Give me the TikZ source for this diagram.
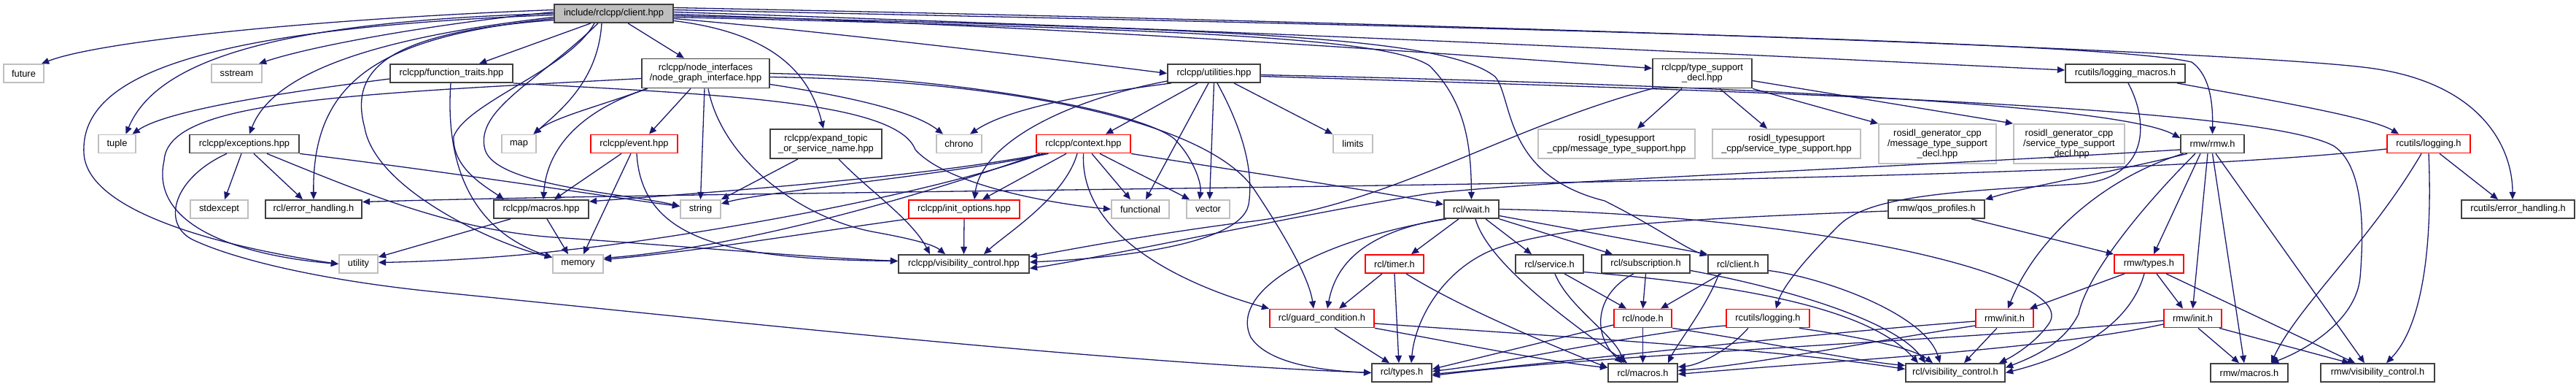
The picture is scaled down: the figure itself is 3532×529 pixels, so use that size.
\documentclass[tikz,border=0pt]{standalone}
\usepackage{fontspec}
\usetikzlibrary{arrows.meta}
\newfontfamily\graphfont{Liberation Sans}
\definecolor{edgeblue}{HTML}{191970}
\definecolor{lightgrey}{HTML}{BFBFBF}

\tikzset{
  hdrbox/.style={draw=black!75, line width=.5pt, fill=white, inner sep=0pt,
    minimum height=.25cm, align=center, font={\graphfont\fontsize{3.65}{4.0}\selectfont}},
  sysbox/.style={hdrbox, draw=lightgrey},
  cutbox/.style={hdrbox, draw=red},
  rootbox/.style={hdrbox, fill=lightgrey},
  incl/.style={draw=edgeblue, line width=.37pt, -{Triangle[length=2.9pt,width=2.5pt]}},
}

\begin{document}
\begin{tikzpicture}[x=0.01cm, y=-0.01cm]
\useasboundingbox (0,0) rectangle (3532,529);

% Include-Graph von client.hpp
\node[rootbox, minimum width=1.63cm] (client) at (841.5,18.5) {include/rclcpp/client.hpp};

% Ebene 1
\node[sysbox, minimum width=.55cm] (future) at (32.5,100.5) {future};
\node[sysbox, minimum width=.69cm] (sstream) at (324.5,100.5) {sstream};
\node[hdrbox, minimum width=1.68cm] (ftraits) at (619,100.5) {rclcpp/function\_traits.hpp};
\node[hdrbox, minimum width=1.75cm, minimum height=.4cm] (nodegraph) at (967.5,100.5) {rclcpp/node\_interfaces\\/node\_graph\_interface.hpp};
\node[hdrbox, minimum width=1.27cm] (utilities) at (1664.5,100.5) {rclcpp/utilities.hpp};
\node[hdrbox, minimum width=1.36cm, minimum height=.4cm] (tsdecl) at (2334,100.5) {rclcpp/type\_support\\\_decl.hpp};
\node[hdrbox, minimum width=1.64cm] (logmacros) at (2914,100.5) {rcutils/logging\_macros.h};

% Ebene 2
\node[sysbox, minimum width=.51cm] (tuple) at (160.5,197) {tuple};
\node[hdrbox, minimum width=1.5cm] (exceptions) at (335,197) {rclcpp/exceptions.hpp};
\node[sysbox, minimum width=.47cm] (map) at (711.5,197) {map};
\node[cutbox, minimum width=1.19cm] (event) at (869.5,197) {rclcpp/event.hpp};
\node[hdrbox, minimum width=1.53cm, minimum height=.4cm] (expand) at (1132.5,197) {rclcpp/expand\_topic\\\_or\_service\_name.hpp};
\node[sysbox, minimum width=.62cm] (chrono) at (1315,197) {chrono};
\node[cutbox, minimum width=1.29cm] (context) at (1485.5,197) {rclcpp/context.hpp};
\node[sysbox, minimum width=.54cm] (limits) at (1855,197) {limits};
\node[sysbox, minimum width=2.15cm, minimum height=.4cm] (msgts) at (2216.5,197) {rosidl\_typesupport\\\_cpp/message\_type\_support.hpp};
\node[sysbox, minimum width=2.03cm, minimum height=.4cm] (srvts) at (2449.5,197) {rosidl\_typesupport\\\_cpp/service\_type\_support.hpp};
\node[sysbox, minimum width=1.61cm, minimum height=.54cm] (genmsg) at (2656.5,197) {rosidl\_generator\_cpp\\/message\_type\_support\\\_decl.hpp};
\node[sysbox, minimum width=1.52cm, minimum height=.54cm] (gensrv) at (2837,197) {rosidl\_generator\_cpp\\/service\_type\_support\\\_decl.hpp};
\node[hdrbox, minimum width=.87cm] (rmw) at (3033.5,197) {rmw/rmw.h};
\node[cutbox, minimum width=1.14cm] (ulogA) at (3330,197) {rcutils/logging.h};

% Ebene 3
\node[sysbox, minimum width=.79cm] (stdexcept) at (300.5,286.5) {stdexcept};
\node[hdrbox, minimum width=1.32cm] (rclerr) at (430,286.5) {rcl/error\_handling.h};
\node[hdrbox, minimum width=1.3cm] (macros) at (742,286.5) {rclcpp/macros.hpp};
\node[sysbox, minimum width=.55cm] (string) at (960.5,286.5) {string};
\node[cutbox, minimum width=1.52cm] (initopts) at (1322,286.5) {rclcpp/init\_options.hpp};
\node[sysbox, minimum width=.79cm] (functional) at (1563.5,286.5) {functional};
\node[sysbox, minimum width=.59cm] (vector) at (1656.5,286.5) {vector};
\node[hdrbox, minimum width=.75cm] (wait) at (2017.5,286.5) {rcl/wait.h};
\node[hdrbox, minimum width=1.32cm] (qos) at (2655,286.5) {rmw/qos\_profiles.h};
\node[hdrbox, minimum width=1.55cm] (uerr) at (3452.5,286.5) {rcutils/error\_handling.h};

% Ebene 4
\node[sysbox, minimum width=.53cm] (utility) at (491.5,361.5) {utility};
\node[sysbox, minimum width=.69cm] (memory) at (792.5,361.5) {memory};
\node[hdrbox, minimum width=1.79cm] (visctl) at (1321.5,361.5) {rclcpp/visibility\_control.hpp};
\node[cutbox, minimum width=.8cm] (timer) at (1912,361.5) {rcl/timer.h};
\node[hdrbox, minimum width=.93cm] (service) at (2124.5,361.5) {rcl/service.h};
\node[hdrbox, minimum width=1.21cm] (subscr) at (2256.5,361.5) {rcl/subscription.h};
\node[hdrbox, minimum width=.82cm] (rclclient) at (2383,361.5) {rcl/client.h};
\node[cutbox, minimum width=.95cm] (rmwtypes) at (2946.5,361.5) {rmw/types.h};

% Ebene 5
\node[cutbox, minimum width=1.43cm] (guard) at (1812.5,436) {rcl/guard\_condition.h};
\node[cutbox, minimum width=.79cm] (rclnode) at (2252.5,436) {rcl/node.h};
\node[cutbox, minimum width=1.14cm] (ulogB) at (2424,436) {rcutils/logging.h};
\node[cutbox, minimum width=.79cm] (rmwinitA) at (2748.5,436) {rmw/init.h};
\node[cutbox, minimum width=.79cm] (rmwinitB) at (3006.5,436) {rmw/init.h};

% Ebene 6
\node[hdrbox, minimum width=.82cm] (rcltypes) at (1922,510.5) {rcl/types.h};
\node[hdrbox, minimum width=.95cm] (rclmacros) at (2252.5,510.5) {rcl/macros.h};
\node[hdrbox, minimum width=1.36cm] (rclvis) at (2681,510.5) {rcl/visibility\_control.h};
\node[hdrbox, minimum width=1.06cm] (rmwmacros) at (3084,510.5) {rmw/macros.h};
\node[hdrbox, minimum width=1.56cm] (rmwvis) at (3260,510.5) {rmw/visibility\_control.h};

% client.hpp
\draw[incl] ([yshift=.05cm]client.west) .. controls (450,25) and (140,55) .. ([xshift=.245cm]future.north);
\draw[incl] ([yshift=.02cm]client.west) .. controls (600,32) and (430,62) .. ([xshift=.305cm]sstream.north);
\draw[incl] (client.west) .. controls (340,30) and (210,95) .. ([xshift=.12cm]tuple.north);
\draw[incl] ([yshift=-.02cm]client.west) .. controls (250,40) and (110,110) .. (115,210) .. controls (120,300) and (350,345) .. (utility.west);
\draw[incl] ([yshift=-.05cm]client.west) .. controls (480,55) and (370,110) .. ([xshift=.07cm]exceptions.north);
\draw[incl] ([yshift=-.07cm]client.west) .. controls (520,50) and (428,110) .. (rclerr.north);
\draw[incl] ([yshift=-.09cm]client.west) .. controls (520,45) and (480,100) .. (500,175) .. controls (515,260) and (680,335) .. ([yshift=.09cm]memory.west);
\draw[incl] ([xshift=-.315cm]client.south) -- ([xshift=.38cm]ftraits.north);
\draw[incl] ([xshift=-.265cm]client.south) .. controls (780,95) and (640,140) .. (622,187) .. controls (620,230) and (665,255) .. ([xshift=-.51cm]macros.north);
\draw[incl] ([xshift=-.215cm]client.south) .. controls (740,110) and (650,150) .. (665,205) .. controls (680,255) and (860,265) .. ([yshift=.04cm]string.west);
\draw[incl] ([xshift=-.165cm]client.south) .. controls (820,110) and (770,150) .. ([xshift=.2cm]map.north);
\draw[incl] ([xshift=.195cm]client.south) -- ([xshift=-.295cm]nodegraph.north);
\draw[incl] ([yshift=-.1cm]client.east) .. controls (1060,45) and (1110,100) .. ([xshift=-.035cm]expand.north);
\draw[incl] ([yshift=-.07cm]client.east) .. controls (1100,40) and (1400,75) .. (utilities.west);
\draw[incl] ([yshift=-.05cm]client.east) .. controls (1600,40) and (1900,50) .. (1960,90) .. controls (2010,140) and (2017,200) .. (wait.north);
\draw[incl] ([yshift=-.03cm]client.east) .. controls (1700,40) and (1980,50) .. (2050,105) .. controls (2075,135) and (2060,240) .. (2200,275) .. controls (2270,310) and (2310,340) .. ([yshift=.115cm]rclclient.west);
\draw[incl] ([yshift=-.01cm]client.east) .. controls (1500,38) and (2000,75) .. ([yshift=.07cm]tsdecl.west);
\draw[incl] ([yshift=.02cm]client.east) .. controls (1800,45) and (2500,80) .. ([yshift=.045cm]logmacros.west);
\draw[incl] ([yshift=.05cm]client.east) .. controls (2200,40) and (2900,60) .. (3005,85) .. controls (3033,105) and (3034,150) .. (rmw.north);
\draw[incl] ([yshift=.08cm]client.east) .. controls (2300,38) and (3100,75) .. (3240,92) .. controls (3400,110) and (3445,200) .. ([xshift=-.075cm]uerr.north);

% function_traits.hpp
\draw[incl] ([yshift=-.075cm]ftraits.west) .. controls (400,125) and (230,150) .. ([xshift=.21cm]tuple.north);
\draw[incl] ([xshift=-.01cm]ftraits.south) .. controls (612,200) and (630,310) .. ([yshift=.09cm]memory.west);
\draw[incl] (ftraits.south east) .. controls (1000,130) and (1230,140) .. (1255,205) .. controls (1300,255) and (1450,280) .. (functional.west);

% exceptions.hpp
\draw[incl] ([xshift=-.04cm]exceptions.south) -- ([xshift=.075cm]stdexcept.north);
\draw[incl] ([xshift=.13cm]exceptions.south) -- ([xshift=-.15cm]rclerr.north);
\draw[incl] ([xshift=-.24cm]exceptions.south) .. controls (235,245) and (220,310) .. (268,330) .. controls (330,358) and (450,385) .. (600,400) .. controls (1000,440) and (1500,495) .. (rcltypes.west);
\draw[incl] ([xshift=.31cm]exceptions.south) .. controls (500,265) and (620,315) .. (760,325) .. controls (950,338) and (1100,352) .. ([yshift=.04cm]visctl.west);
\draw[incl] (exceptions.south east) .. controls (650,240) and (850,272) .. ([yshift=.04cm]string.west);

% macros.hpp
\draw[incl] ([xshift=.08cm]macros.south) -- ([xshift=-.135cm]memory.north);
\draw[incl] ([xshift=-.42cm]macros.south) -- ([yshift=.095cm]utility.east);

% node_graph_interface.hpp
\draw[incl] ([xshift=-.815cm]nodegraph.south) .. controls (840,140) and (760,160) .. ([xshift=.2cm]map.north);
\draw[incl] ([xshift=-.795cm]nodegraph.south) .. controls (800,150) and (750,200) .. ([xshift=.03cm]macros.north);
\draw[incl] ([xshift=-.205cm]nodegraph.south) -- ([xshift=.205cm]event.north);
\draw[incl] ([xshift=-.015cm]nodegraph.south) -- (string.north);
\draw[incl] ([yshift=-.07cm]nodegraph.west) .. controls (450,130) and (230,140) .. (225,220) .. controls (205,310) and (330,350) .. (utility.west);
\draw[incl] (nodegraph.east) .. controls (1300,105) and (1560,150) .. (1610,190) .. controls (1635,215) and (1648,250) .. ([xshift=-.12cm]vector.north);
\draw[incl] ([yshift=-.05cm]nodegraph.east) .. controls (1400,110) and (1660,170) .. (1720,260) .. controls (1760,320) and (1795,380) .. ([xshift=-.115cm]guard.north);
\draw[incl] ([xshift=.035cm]nodegraph.south) .. controls (990,220) and (1100,300) .. (1200,318) .. controls (1250,327) and (1280,335) .. ([xshift=-.255cm]visctl.north);
\draw[incl] ([yshift=-.15cm]nodegraph.east) .. controls (1150,130) and (1250,150) .. ([xshift=-.22cm]chrono.north);

% event.hpp
\draw[incl] ([xshift=-.175cm]event.south) -- ([xshift=.18cm]macros.north);
\draw[incl] ([xshift=-.045cm]event.south) -- ([xshift=.075cm]memory.north);
\draw[incl] ([xshift=.035cm]event.south) .. controls (880,330) and (1000,355) .. ([yshift=.04cm]visctl.west);

% expand_topic_or_service_name.hpp
\draw[incl] ([xshift=-.385cm]expand.south) -- (string.north east);
\draw[incl] ([xshift=.175cm]expand.south) .. controls (1190,260) and (1250,300) .. ([xshift=-.465cm]visctl.north);

% utilities.hpp
\draw[incl] ([yshift=-.105cm]utilities.west) .. controls (1450,140) and (1345,200) .. ([xshift=.14cm]initopts.north);
\draw[incl] ([xshift=-.585cm]utilities.south) .. controls (1480,130) and (1380,150) .. ([xshift=.15cm]chrono.north);
\draw[incl] ([xshift=-.225cm]utilities.south) -- ([xshift=.305cm]context.north);
\draw[incl] ([xshift=-.075cm]utilities.south) -- ([xshift=.075cm]functional.north);
\draw[incl] (utilities.south) -- ([xshift=.02cm]vector.north);
\draw[incl] ([xshift=.045cm]utilities.south) .. controls (1700,170) and (1720,230) .. (1712,280) .. controls (1700,340) and (1500,355) .. ([yshift=.025cm]visctl.east);
\draw[incl] ([xshift=.275cm]utilities.south) -- (limits.north west);
\draw[incl] ([yshift=-.02cm]utilities.east) .. controls (2300,115) and (2900,140) .. ([yshift=.08cm]rmw.west);
\draw[incl] ([yshift=-.04cm]utilities.east) .. controls (2400,125) and (3100,145) .. (3200,200) .. controls (3245,230) and (3240,330) .. (3236,380) .. controls (3230,440) and (3160,480) .. ([xshift=.3cm]rmwmacros.north);

% context.hpp
\draw[incl] ([xshift=-.48cm]context.south) .. controls (1300,240) and (1050,262) .. ([yshift=.075cm]string.east);
\draw[incl] ([xshift=-.52cm]context.south) .. controls (1250,245) and (950,265) .. ([yshift=.105cm]macros.east);
\draw[incl] ([xshift=-.56cm]context.south) .. controls (1250,275) and (900,330) .. (780,342) .. controls (700,352) and (600,358) .. ([yshift=.02cm]utility.east);
\draw[incl] ([xshift=-.6cm]context.south) .. controls (1230,280) and (1000,340) .. ([yshift=.08cm]memory.east);
\draw[incl] ([xshift=-.235cm]context.south) -- ([xshift=.25cm]initopts.north);
\draw[incl] ([xshift=-.085cm]context.south) .. controls (1460,270) and (1380,320) .. ([xshift=.275cm]visctl.north);
\draw[incl] (context.south) .. controls (1480,330) and (1640,395) .. (guard.north west);
\draw[incl] ([xshift=.115cm]context.south) -- ([xshift=-.135cm]functional.north);
\draw[incl] ([xshift=.225cm]context.south) -- ([xshift=-.255cm]vector.north);
\draw[incl] (context.south east) .. controls (1700,235) and (1850,255) .. ([yshift=.065cm]wait.west);

% init_options.hpp
\draw[incl] (initopts.south west) .. controls (1100,320) and (950,345) .. ([yshift=.06cm]memory.east);
\draw[incl] (initopts.south) -- (visctl.north);

% type_support_decl.hpp
\draw[incl] ([xshift=-.28cm]tsdecl.south) -- ([xshift=.285cm]msgts.north);
\draw[incl] ([xshift=.24cm]tsdecl.south) -- ([xshift=-.265cm]srvts.north);
\draw[incl] (tsdecl.south east) -- (genmsg.north west);
\draw[incl] ([yshift=-.1cm]tsdecl.east) -- (gensrv.north west);
\draw[incl] (tsdecl.south west) .. controls (2050,180) and (1900,285) .. (1700,305) .. controls (1550,325) and (1450,345) .. ([yshift=.1cm]visctl.east);

% logging_macros.h
\draw[incl] ([xshift=.04cm]logmacros.south) .. controls (2948,170) and (2945,245) .. (2850,252) .. controls (2680,262) and (2560,268) .. (2520,310) .. controls (2480,350) and (2445,390) .. ([xshift=.11cm]ulogB.north);
\draw[incl] ([xshift=.71cm]logmacros.south) .. controls (3100,135) and (3250,160) .. ([xshift=-.41cm]ulogA.north);

% rmw.h
\draw[incl] ([xshift=-.345cm]rmw.south) .. controls (2900,235) and (2780,255) .. (qos.north east);
\draw[incl] ([xshift=-.4cm]rmw.south) .. controls (2880,245) and (2790,330) .. ([xshift=.045cm]rmwinitA.north);
\draw[incl] ([xshift=-.165cm]rmw.south) -- ([xshift=.065cm]rmwtypes.north);
\draw[incl] ([xshift=-.065cm]rmw.south) -- (rmwinitB.north);
\draw[incl] (rmw.south) -- ([xshift=-.07cm]rmwmacros.north);
\draw[incl] ([xshift=.045cm]rmw.south) -- ([xshift=-.18cm]rmwvis.north);
\draw[incl] ([xshift=-.235cm]rmw.south) .. controls (2930,290) and (2860,380) .. (2850,430) .. controls (2830,470) and (2790,488) .. ([yshift=.07cm]rclvis.east);
\draw[incl] ([yshift=-.08cm]rmw.west) .. controls (2500,235) and (2150,245) .. (1960,265) .. controls (1800,290) and (1500,355) .. ([yshift=-.06cm]visctl.east);

% rcutils/logging.h (oben)
\draw[incl] ([yshift=-.07cm]ulogA.west) .. controls (2800,258) and (1200,256) .. ([yshift=.1cm]rclerr.east);
\draw[incl] ([xshift=-.1cm]ulogA.south) .. controls (3250,330) and (3150,420) .. ([xshift=.3cm]rmwmacros.north);
\draw[incl] (ulogA.south) .. controls (3336,350) and (3318,450) .. ([xshift=.12cm]rmwvis.north);
\draw[incl] ([xshift=.15cm]ulogA.south) -- ([xshift=-.275cm]uerr.north);

% qos_profiles.h
\draw[incl] ([xshift=.48cm]qos.south) -- (rmwtypes.north west);
\draw[incl] ([yshift=-.025cm]qos.west) .. controls (2300,300) and (2120,310) .. (2040,345) .. controls (1975,375) and (1940,440) .. ([xshift=.13cm]rcltypes.north);

% wait.h
\draw[incl] ([xshift=-.175cm]wait.south) -- ([xshift=.23cm]timer.north);
\draw[incl] ([xshift=.195cm]wait.south) -- ([xshift=-.245cm]service.north);
\draw[incl] (wait.south east) -- ([xshift=-.455cm]subscr.north);
\draw[incl] ([yshift=-.09cm]wait.east) -- (rclclient.north west);
\draw[incl] (wait.south west) .. controls (1860,320) and (1830,370) .. ([xshift=.075cm]guard.north);
\draw[incl] ([xshift=-.345cm]wait.south) .. controls (1800,330) and (1685,400) .. (1715,462) .. controls (1740,500) and (1820,508) .. (rcltypes.west);
\draw[incl] ([xshift=.055cm]wait.south) .. controls (2040,360) and (2150,440) .. ([xshift=-.215cm]rclmacros.north);
\draw[incl] (wait.east) .. controls (2500,295) and (2860,380) .. (2808,445) .. controls (2790,470) and (2760,488) .. ([xshift=.6cm]rclvis.north);

% timer.h
\draw[incl] ([xshift=-.17cm]timer.south) -- ([xshift=.235cm]guard.north);
\draw[incl] (timer.south) -- ([xshift=-.04cm]rcltypes.north);
\draw[incl] ([xshift=.16cm]timer.south) .. controls (2000,420) and (2120,470) .. ([yshift=.07cm]rclmacros.west);

% guard_condition.h
\draw[incl] ([xshift=.175cm]guard.south) -- ([xshift=-.17cm]rcltypes.north);
\draw[incl] (guard.south east) .. controls (2000,470) and (2120,495) .. ([yshift=.07cm]rclmacros.west);
\draw[incl] ([yshift=-.07cm]guard.east) .. controls (2200,465) and (2450,480) .. ([yshift=.05cm]rclvis.west);

% service.h
\draw[incl] ([xshift=.205cm]service.south) -- ([xshift=-.225cm]rclnode.north);
\draw[incl] ([xshift=.075cm]service.south) .. controls (2150,420) and (2215,460) .. ([xshift=-.265cm]rclmacros.north);
\draw[incl] ([yshift=-.11cm]service.east) .. controls (2380,390) and (2560,420) .. ([xshift=-.51cm]rclvis.north);

% subscription.h
\draw[incl] (subscr.south) -- (rclnode.north);
\draw[incl] ([xshift=-.165cm]subscr.south) .. controls (2190,400) and (2180,455) .. ([xshift=-.285cm]rclmacros.north);
\draw[incl] ([yshift=-.09cm]subscr.east) .. controls (2450,395) and (2600,440) .. ([xshift=-.41cm]rclvis.north);

% client.h
\draw[incl] ([xshift=-.23cm]rclclient.south) -- ([xshift=.245cm]rclnode.north);
\draw[incl] ([xshift=-.26cm]rclclient.south) .. controls (2340,420) and (2300,470) .. ([xshift=.345cm]rclmacros.north);
\draw[incl] ([yshift=-.09cm]rclclient.east) .. controls (2500,380) and (2640,430) .. ([xshift=-.21cm]rclvis.north);

% node.h
\draw[incl] ([yshift=-.09cm]rclnode.west) -- ([yshift=.05cm]rcltypes.east);
\draw[incl] (rclnode.south) -- (rclmacros.north);
\draw[incl] (rclnode.south east) .. controls (2400,465) and (2550,495) .. ([yshift=.1cm]rclvis.west);

% rcutils/logging.h (unten)
\draw[incl] ([yshift=-.1cm]ulogB.west) .. controls (2250,455) and (2080,495) .. ([yshift=.02cm]rcltypes.east);
\draw[incl] ([xshift=-.27cm]ulogB.south) .. controls (2370,480) and (2330,500) .. ([yshift=.08cm]rclmacros.east);
\draw[incl] ([xshift=.43cm]ulogB.south) .. controls (2540,460) and (2620,475) .. ([xshift=-.31cm]rclvis.north);

% rmw/init.h (links)
\draw[incl] ([yshift=-.04cm]rmwinitA.west) .. controls (2500,455) and (2150,495) .. ([yshift=-.02cm]rcltypes.east);
\draw[incl] ([yshift=-.1cm]rmwinitA.west) .. controls (2550,470) and (2400,500) .. ([yshift=.03cm]rclmacros.east);
\draw[incl] ([xshift=-.105cm]rmwinitA.south) -- ([xshift=.12cm]rclvis.north);

% rmw/init.h (rechts)
\draw[incl] ([yshift=-.03cm]rmwinitB.west) .. controls (2750,462) and (2200,485) .. ([yshift=-.04cm]rcltypes.east);
\draw[incl] ([yshift=-.08cm]rmwinitB.west) .. controls (2800,480) and (2500,495) .. ([yshift=-.02cm]rclmacros.east);
\draw[incl] ([xshift=.075cm]rmwinitB.south) -- ([xshift=-.14cm]rmwmacros.north);
\draw[incl] ([xshift=.365cm]rmwinitB.south) -- ([xshift=-.385cm]rmwvis.north);

% rmw/types.h
\draw[incl] ([xshift=-.335cm]rmwtypes.south) -- ([xshift=.345cm]rmwinitA.north);
\draw[incl] ([xshift=.105cm]rmwtypes.south) -- ([xshift=-.135cm]rmwinitB.north);
\draw[incl] ([xshift=.235cm]rmwtypes.south) -- ([xshift=-.31cm]rmwvis.north);
\draw[incl] ([xshift=-.065cm]rmwtypes.south) .. controls (2925,430) and (2870,480) .. (rclvis.east);
\end{tikzpicture}
\end{document}
